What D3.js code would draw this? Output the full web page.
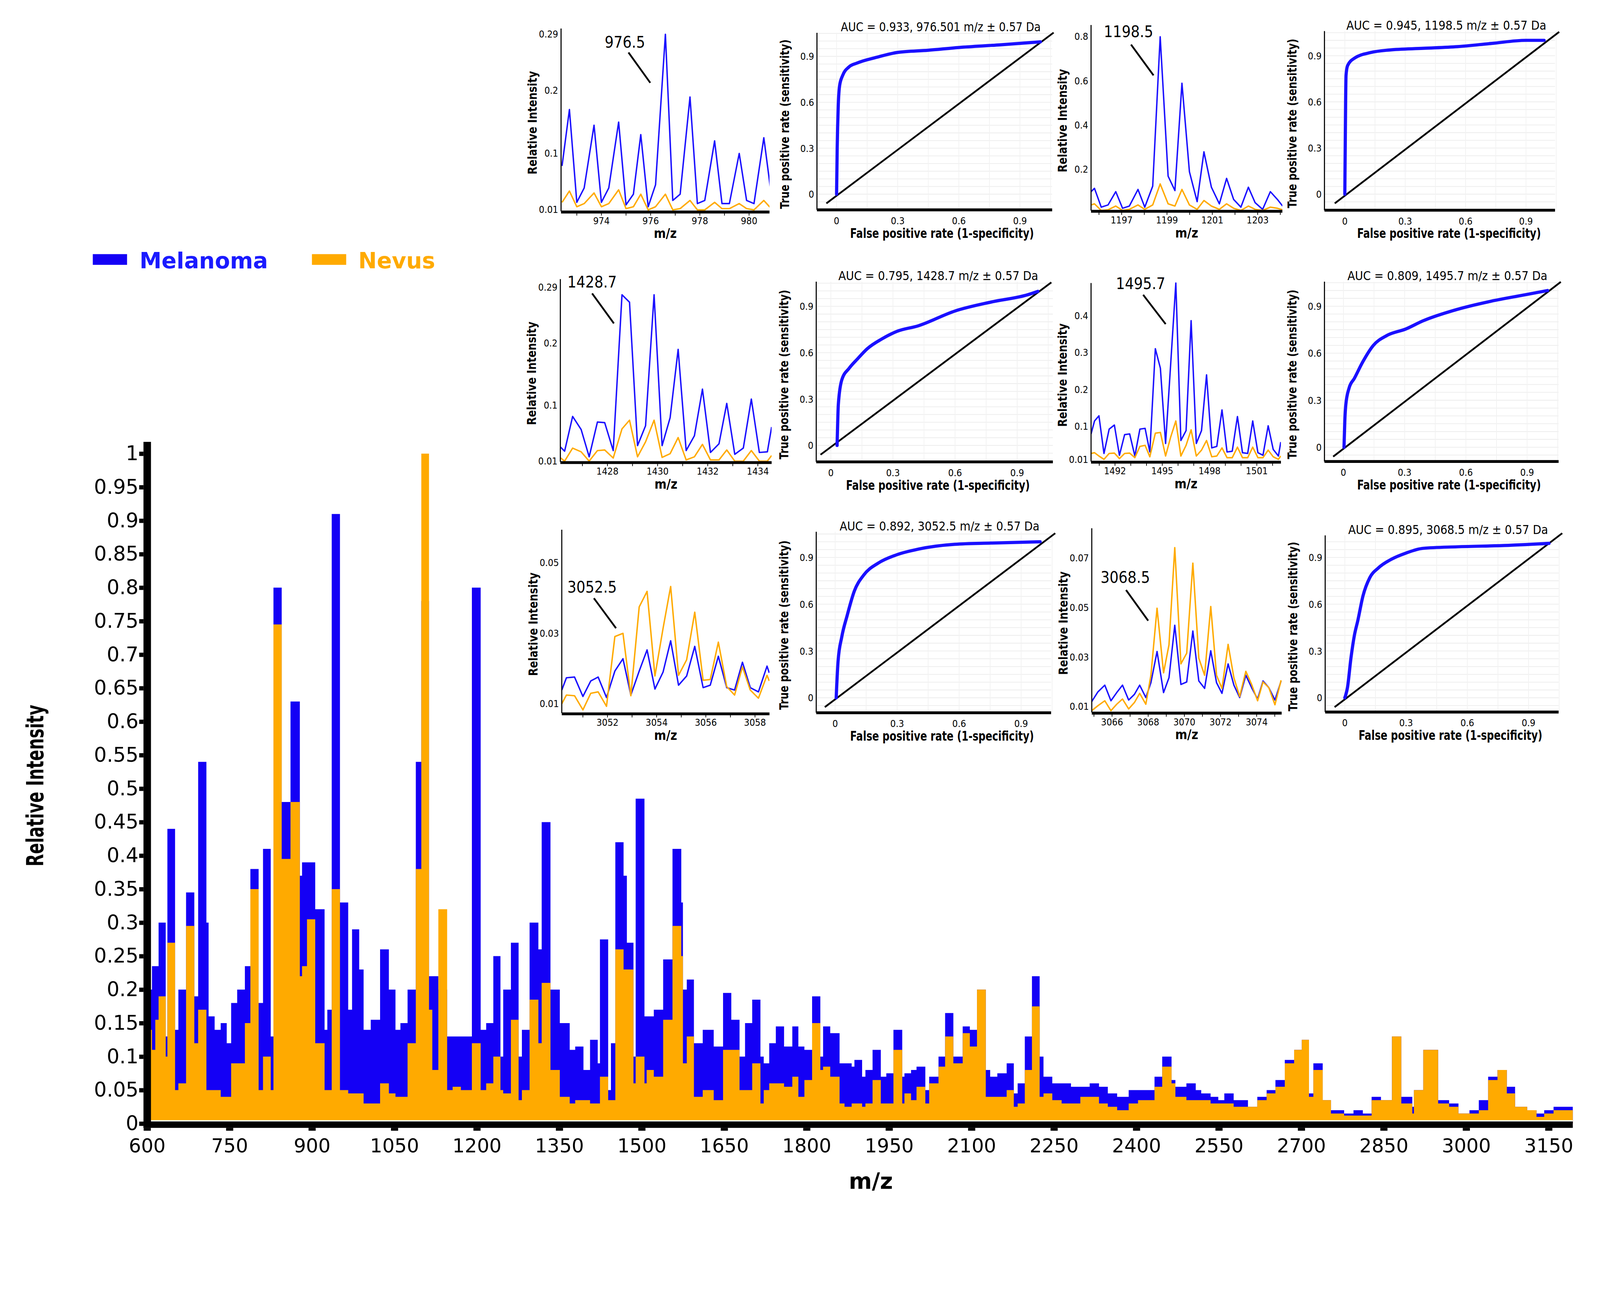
<!DOCTYPE html>
<html><head><meta charset="utf-8">
<script src="https://cdn.jsdelivr.net/npm/d3@7"></script>
<style>html,body{margin:0;padding:0;width:100%;height:100%;overflow:hidden;background:#fff}svg{display:block}</style>
</head><body>
<script>
// ===== DATA =====
const mainMz=[600,609,615,621,634,637,651,657,671,686,693,708,712,723,734,745,753,764,778,788,803,811,825,830,845,861,878,882,891,906,923,928,936,951,966,973,986,994,1007,1024,1040,1052,1061,1074,1089,1099,1113,1119,1130,1146,1156,1171,
1191,1207,1217,1230,1243,1248,1262,1276,1282,1296,1312,1318,1334,1351,1369,1379,1394,1406,1420,1424,1439,1444,1452,1467,1473,1485,1489,1505,1509,1522,1539,1556,1572,1575,1582,1595,1611,1631,1648,1663,1678,1688,1701,1716,1722,1732,1744,1759,1774,1785,1796,1810,1825,1830,1843,1860,1869,1882,1887,1901,1907,1920,1935,1945,1958,1974,1978,1990,2000,2016,2023,2040,2052,2067,2084,2097,2110,2126,2134,2147,2164,2177,2184,2197,2210,
2224,2231,2247,2264,2281,2298,2315,2332,2348,2365,2386,2403,2433,2447,2464,2471,2491,2508,2518,2535,2549,2560,2577,2590,2603,2620,2637,2653,2670,2687,2701,2714,2722,2739,2754,2778,2795,2812,2828,2845,2865,2882,2902,2905,2922,2949,2969,2986,3006,3023,3040,3057,3074,3089,3111,3128,3142,3159];
const mainMzEnd=3194;
const mainMelanoma=[0.2,0.235,0.235,0.3,0.13,0.44,0.14,0.2,0.345,0.19,0.54,0.3,0.16,0.14,0.15,0.12,0.18,0.2,0.235,0.38,0.18,0.41,0.13,0.8,0.48,0.63,0.37,0.39,0.39,0.32,0.14,0.17,0.91,0.33,0.17,0.29,0.23,0.14,0.155,0.26,0.2,0.14,0.15,0.2,0.54,0.78,0.22,0.22,0.2,0.13,0.13,0.13,
0.8,0.14,0.15,0.25,0.1,0.2,0.27,0.1,0.14,0.3,0.26,0.45,0.2,0.15,0.11,0.115,0.08,0.125,0.09,0.275,0.05,0.12,0.42,0.37,0.27,0.1,0.485,0.16,0.16,0.17,0.245,0.41,0.33,0.2,0.215,0.12,0.14,0.115,0.195,0.155,0.1,0.15,0.185,0.1,0.09,0.12,0.145,0.115,0.145,0.115,0.11,0.19,0.1,0.145,0.135,0.09,0.09,0.085,0.095,0.07,0.08,0.11,0.07,0.075,0.14,0.07,0.075,0.08,0.085,0.05,0.07,0.1,0.165,0.1,0.145,0.14,0.2,0.08,0.07,0.075,0.09,0.045,0.06,0.13,0.22,
0.1,0.07,0.06,0.06,0.055,0.055,0.06,0.055,0.045,0.04,0.05,0.05,0.07,0.1,0.065,0.055,0.06,0.05,0.045,0.04,0.035,0.045,0.035,0.035,0.025,0.04,0.05,0.065,0.095,0.11,0.125,0.045,0.09,0.035,0.02,0.015,0.02,0.015,0.04,0.035,0.13,0.04,0.025,0.05,0.11,0.035,0.03,0.015,0.02,0.035,0.07,0.08,0.055,0.025,0.02,0.015,0.02,0.025];
const mainNevus=[0.14,0.11,0.155,0.19,0.1,0.27,0.05,0.06,0.295,0.12,0.17,0.05,0.05,0.05,0.04,0.04,0.09,0.09,0.15,0.35,0.05,0.1,0.05,0.745,0.395,0.48,0.22,0.235,0.305,0.12,0.05,0.05,0.35,0.05,0.045,0.045,0.045,0.03,0.03,0.06,0.045,0.04,0.04,0.12,0.38,1.0,0.17,0.08,0.32,0.05,0.055,0.05,
0.12,0.05,0.06,0.1,0.05,0.045,0.155,0.035,0.05,0.185,0.12,0.21,0.08,0.04,0.03,0.035,0.035,0.03,0.03,0.07,0.035,0.035,0.26,0.23,0.23,0.06,0.1,0.06,0.08,0.07,0.155,0.295,0.25,0.09,0.13,0.04,0.05,0.035,0.11,0.11,0.05,0.05,0.09,0.03,0.05,0.06,0.06,0.055,0.07,0.04,0.065,0.15,0.08,0.085,0.07,0.03,0.025,0.03,0.03,0.025,0.03,0.065,0.03,0.03,0.11,0.03,0.045,0.035,0.055,0.03,0.06,0.085,0.13,0.09,0.135,0.115,0.2,0.04,0.04,0.04,0.05,0.025,0.03,0.08,0.175,
0.04,0.045,0.035,0.03,0.03,0.04,0.04,0.03,0.025,0.02,0.03,0.035,0.055,0.085,0.06,0.04,0.035,0.035,0.035,0.03,0.03,0.03,0.025,0.025,0.025,0.035,0.045,0.055,0.09,0.11,0.125,0.04,0.08,0.035,0.015,0.012,0.012,0.012,0.035,0.035,0.13,0.03,0.015,0.05,0.11,0.03,0.025,0.015,0.015,0.02,0.065,0.08,0.045,0.025,0.02,0.01,0.015,0.02];
const mainXTicks=[600,750,900,1050,1200,1350,1500,1650,1800,1950,2100,2250,2400,2550,2700,2850,3000,3150];
const mainYTicks=[0,0.05,0.1,0.15,0.2,0.25,0.3,0.35,0.4,0.45,0.5,0.55,0.6,0.65,0.7,0.75,0.8,0.85,0.9,0.95,1];
const legendLabels=["Melanoma","Nevus"];

const s1Mz=[972.4,972.7,973.0,973.3,973.7,974.0,974.3,974.7,975.0,975.3,975.6,975.9,976.2,976.6,976.9,977.2,977.6,977.9,978.2,978.6,978.9,979.2,979.6,979.9,980.2,980.6,980.9];
const s1Melanoma=[0.08,0.17,0.022,0.045,0.145,0.022,0.045,0.15,0.018,0.035,0.13,0.015,0.05,0.29,0.025,0.035,0.19,0.02,0.025,0.12,0.02,0.02,0.10,0.025,0.02,0.125,0.035];
const s1Nevus=[0.022,0.04,0.015,0.02,0.037,0.015,0.02,0.042,0.012,0.015,0.035,0.01,0.015,0.035,0.01,0.012,0.025,0.01,0.01,0.022,0.012,0.012,0.02,0.012,0.01,0.025,0.012];
const s2Mz=[1195.65,1195.80,1196.10,1196.40,1196.74,1197.04,1197.34,1197.72,1198.02,1198.37,1198.70,1199.05,1199.35,1199.66,1199.99,1200.33,1200.63,1200.96,1201.31,1201.63,1201.94,1202.26,1202.59,1202.89,1203.22,1203.56,1203.87,1204.10];
const s2Melanoma=[0.10,0.115,0.03,0.04,0.10,0.025,0.035,0.11,0.03,0.125,0.80,0.17,0.105,0.59,0.19,0.055,0.28,0.12,0.045,0.16,0.065,0.03,0.12,0.05,0.02,0.10,0.065,0.035];
const s2Nevus=[0.04,0.045,0.015,0.018,0.035,0.015,0.02,0.04,0.02,0.04,0.135,0.045,0.035,0.11,0.04,0.02,0.06,0.035,0.02,0.045,0.025,0.015,0.035,0.02,0.015,0.03,0.025,0.018];
const s3Mz=[1426.12,1426.29,1426.61,1426.95,1427.27,1427.60,1427.89,1428.23,1428.58,1428.88,1429.20,1429.52,1429.86,1430.18,1430.50,1430.82,1431.14,1431.47,1431.79,1432.11,1432.45,1432.76,1433.08,1433.42,1433.74,1434.06,1434.38,1434.55];
const s3Melanoma=[0.033,0.026,0.082,0.061,0.017,0.073,0.072,0.027,0.278,0.266,0.035,0.067,0.278,0.035,0.080,0.19,0.027,0.051,0.126,0.024,0.038,0.103,0.021,0.031,0.11,0.024,0.025,0.065];
const s3Nevus=[0.0156,0.010,0.031,0.025,0.010,0.027,0.028,0.015,0.062,0.076,0.017,0.041,0.076,0.016,0.022,0.048,0.012,0.017,0.037,0.012,0.012,0.028,0.010,0.010,0.027,0.010,0.010,0.019];
const s4Mz=[1490.48,1490.70,1490.98,1491.30,1491.63,1491.96,1492.28,1492.61,1492.93,1493.26,1493.58,1493.91,1494.21,1494.56,1494.88,1495.21,1495.53,1495.86,1496.18,1496.51,1496.83,1497.16,1497.49,1497.81,1498.14,1498.46,1498.79,1499.11,1499.44,1499.77,1500.09,1500.42,1500.74,1501.07,1501.39,1501.72,1502.04,1502.37,1502.52];
const s4Melanoma=[0.080,0.115,0.129,0.027,0.093,0.104,0.022,0.078,0.080,0.020,0.093,0.095,0.031,0.311,0.258,0.054,0.267,0.489,0.062,0.089,0.387,0.054,0.089,0.240,0.042,0.046,0.145,0.031,0.033,0.127,0.029,0.027,0.115,0.029,0.022,0.102,0.038,0.020,0.058];
const s4Nevus=[0.027,0.029,0.020,0.011,0.027,0.028,0.013,0.027,0.028,0.0155,0.046,0.049,0.018,0.082,0.084,0.020,0.071,0.115,0.020,0.049,0.091,0.020,0.036,0.062,0.018,0.020,0.042,0.0155,0.0155,0.044,0.0155,0.0155,0.044,0.0155,0.0155,0.036,0.018,0.011,0.020];
const s5Mz=[3050.14,3050.33,3050.66,3051.00,3051.32,3051.62,3051.96,3052.30,3052.63,3052.95,3053.29,3053.61,3053.93,3054.26,3054.57,3054.89,3055.22,3055.55,3055.89,3056.18,3056.51,3056.85,3057.17,3057.49,3057.81,3058.14,3058.49,3058.58];
const s5Melanoma=[0.0139,0.0174,0.0176,0.0121,0.0165,0.0176,0.0118,0.0193,0.0228,0.0125,0.0193,0.0253,0.0142,0.019,0.0279,0.0153,0.0179,0.0263,0.0146,0.0153,0.0235,0.0146,0.0139,0.0218,0.0146,0.0134,0.0207,0.0188];
const s5Nevus=[0.010,0.0125,0.0123,0.0083,0.013,0.0134,0.0093,0.0291,0.030,0.0123,0.0375,0.0419,0.0179,0.0314,0.0433,0.0181,0.0225,0.036,0.0167,0.0169,0.0275,0.0149,0.0125,0.0205,0.0139,0.0116,0.0181,0.0165];
const s6Mz=[3064.88,3065.22,3065.60,3065.94,3066.26,3066.58,3066.92,3067.24,3067.53,3067.87,3068.15,3068.49,3068.85,3069.15,3069.47,3069.81,3070.13,3070.47,3070.80,3071.12,3071.46,3071.78,3072.08,3072.42,3072.74,3073.06,3073.40,3073.72,3074.05,3074.35,3074.67,3075.01,3075.35];
const s6Melanoma=[0.0121,0.016,0.0187,0.0124,0.0157,0.0187,0.0127,0.015,0.0187,0.0137,0.0197,0.0323,0.0157,0.0217,0.0429,0.019,0.020,0.0406,0.0204,0.0174,0.0326,0.0197,0.0154,0.0273,0.0187,0.0137,0.0227,0.0177,0.0131,0.0204,0.0177,0.0127,0.0204];
const s6Nevus=[0.0084,0.0104,0.0124,0.0084,0.011,0.0131,0.0091,0.0117,0.0154,0.011,0.0227,0.0498,0.0237,0.035,0.0743,0.0273,0.0316,0.068,0.0296,0.0227,0.0505,0.0227,0.0174,0.0352,0.0217,0.0141,0.0243,0.019,0.0124,0.020,0.0177,0.0108,0.0207];

const peakLabels=["976.5","1198.5","1428.7","1495.7","3052.5","3068.5"];
const aucTitles=["AUC = 0.933, 976.501 m/z ± 0.57 Da","AUC = 0.945, 1198.5 m/z ± 0.57 Da","AUC = 0.795, 1428.7 m/z ± 0.57 Da","AUC = 0.809, 1495.7 m/z ± 0.57 Da","AUC = 0.892, 3052.5 m/z ± 0.57 Da","AUC = 0.895, 3068.5 m/z ± 0.57 Da"];
const specXTicks=[[974,976,978,980],[1197,1199,1201,1203],[1428,1430,1432,1434],[1492,1495,1498,1501],[3052,3054,3056,3058],[3066,3068,3070,3072,3074]];
const specYTicks=[[0.01,0.1,0.2,0.29],[0.2,0.4,0.6,0.8],[0.01,0.1,0.2,0.29],[0.01,0.1,0.2,0.3,0.4],[0.01,0.03,0.05],[0.01,0.03,0.05,0.07]];
const rocTicks=[0,0.3,0.6,0.9];

const roc1Fpr=[0,0.003,0.008,0.015,0.03,0.06,0.1,0.2,0.3,0.45,0.6,0.8,1.0];
const roc1Tpr=[0,0.3,0.57,0.71,0.776,0.83,0.856,0.895,0.926,0.94,0.958,0.975,0.995];
const roc2Fpr=[0,0.002,0.004,0.006,0.014,0.048,0.13,0.22,0.39,0.56,0.73,0.9,0.99];
const roc2Tpr=[0,0.3,0.6,0.772,0.836,0.884,0.921,0.937,0.948,0.959,0.98,1.0,1.0];
const roc3Fpr=[0.03,0.033,0.036,0.053,0.088,0.13,0.176,0.246,0.317,0.422,0.6,0.775,0.951,1.0];
const roc3Tpr=[0,0.15,0.265,0.425,0.499,0.562,0.626,0.689,0.737,0.774,0.87,0.928,0.975,0.997];
const roc4Fpr=[0.003,0.007,0.012,0.028,0.054,0.095,0.146,0.213,0.305,0.389,0.556,0.724,0.891,1.0];
const roc4Tpr=[0,0.169,0.273,0.378,0.44,0.545,0.649,0.713,0.754,0.806,0.879,0.932,0.973,1.0];
const roc5Fpr=[0.005,0.014,0.032,0.058,0.093,0.137,0.208,0.296,0.402,0.578,0.754,0.992];
const roc5Tpr=[0,0.233,0.39,0.527,0.685,0.785,0.863,0.916,0.953,0.984,0.992,1.0];
const roc6Fpr=[0,0.013,0.03,0.047,0.064,0.089,0.122,0.164,0.231,0.298,0.382,0.55,0.801,1.0];
const roc6Tpr=[0,0.065,0.254,0.401,0.497,0.653,0.769,0.832,0.89,0.927,0.958,0.968,0.977,0.99];

// ===== LAYOUT =====
const W=4483,H=3356;
const BLUE="#1a10ff", ORANGE="#ffaa00", MBLUE="#1400f5";
const NARROW="'Liberation Sans Narrow','DejaVu Sans Condensed',sans-serif";
const svg=d3.select("body").append("svg").attr("viewBox",`0 0 ${W} ${H}`).attr("width","100%").attr("height","100%").attr("preserveAspectRatio","xMinYMin meet");
const defs=svg.append("defs");

const mx=d3.scaleLinear().domain([600,3150]).range([412,412+2550*1.54]);
const my=d3.scaleLinear().domain([0,1]).range([3148,1271]);
function stepData(vals){const d=mainMz.map((m,i)=>({m,v:vals[i]}));d.push({m:mainMzEnd,v:vals[vals.length-1]});return d;}
const ar=d3.area().x(d=>mx(d.m)).y0(my(0)).y1(d=>my(d.v)).curve(d3.curveStepAfter);
svg.append("path").datum(stepData(mainMelanoma)).attr("d",ar).attr("fill",MBLUE);
svg.append("path").datum(stepData(mainNevus)).attr("d",ar).attr("fill",ORANGE);
svg.append("line").attr("x1",mx(600)).attr("x2",mx(mainMzEnd)).attr("y1",my(0.004)).attr("y2",my(0.004)).attr("stroke","#fff").attr("stroke-width",4);
svg.append("rect").attr("x",402).attr("y",1238).attr("width",21).attr("height",3160-1238).attr("fill","#000");
svg.append("rect").attr("x",402).attr("y",3142).attr("width",mx(mainMzEnd)-402).attr("height",18).attr("fill","#000");
const yAx=d3.axisLeft(my).tickValues(mainYTicks).tickFormat(d=>d3.format("~g")(d)).tickSize(0).tickPadding(14);
const gy=svg.append("g").attr("transform","translate(402,0)").call(yAx);
gy.select(".domain").remove();
gy.selectAll(".tick text").attr("font-family","'DejaVu Sans',Verdana,sans-serif").attr("font-size",56).attr("fill","#000");
gy.selectAll(".tick").append("rect").attr("x",-12).attr("y",-6).attr("width",12).attr("height",12).attr("fill","#000");
const xAx=d3.axisBottom(mx).tickValues(mainXTicks).tickFormat(d3.format("d")).tickSize(0).tickPadding(30);
const gx=svg.append("g").attr("transform","translate(0,3160)").call(xAx);
gx.select(".domain").remove();
gx.selectAll(".tick text").attr("font-family","'DejaVu Sans',Verdana,sans-serif").attr("font-size",54).attr("fill","#000");
gx.selectAll(".tick").append("rect").attr("x",-10).attr("y",0).attr("width",20).attr("height",8).attr("fill","#000");
svg.append("text").attr("x",2440).attr("y",3330).attr("text-anchor","middle").attr("font-family","'DejaVu Sans',sans-serif").attr("font-weight","bold").attr("font-size",62).text("m/z");
svg.append("text").attr("transform","translate(122,2201) rotate(-90)").attr("text-anchor","middle").attr("font-family",NARROW).attr("font-weight","bold").attr("font-size",66).attr("textLength",453).attr("lengthAdjust","spacingAndGlyphs").text("Relative Intensity");
const leg=[{x:260,tx:391,c:MBLUE,tc:"#1a1aff"},{x:874,tx:1004,c:ORANGE,tc:ORANGE}];
leg.forEach((l,i)=>{
  svg.append("rect").attr("x",l.x).attr("y",712).attr("width",96).attr("height",30).attr("fill",l.c);
  svg.append("text").attr("x",l.tx).attr("y",752).attr("font-family","'DejaVu Sans',sans-serif").attr("font-weight","bold").attr("font-size",62).attr("fill",l.tc).text(legendLabels[i]);
});

const spectra=[
 {mz:s1Mz,mel:s1Melanoma,nev:s1Nevus,L:1572,R:2156,B:592,T:80,ya:[0.01,588],yb:[0.29,96],xd:[972.36,980.83],lab:[1751,134],ln:[1761,147,1822,232]},
 {mz:s2Mz,mel:s2Melanoma,nev:s2Nevus,L:3057,R:3593,B:590,T:70,ya:[0.2,475],yb:[0.8,103],xd:[1195.65,1204.09],lab:[3162,104],ln:[3169,125,3232,211]},
 {mz:s3Mz,mel:s3Melanoma,nev:s3Nevus,L:1570,R:2162,B:1294,T:782,ya:[0.01,1292],yb:[0.29,805],xd:[1426.12,1434.55],lab:[1659,805],ln:[1659,822,1720,906]},
 {mz:s4Mz,mel:s4Melanoma,nev:s4Nevus,L:3057,R:3589,B:1293,T:793,ya:[0.1,1195],yb:[0.4,885],xd:[1490.48,1502.53],lab:[3196,810],ln:[3203,826,3266,908]},
 {mz:s5Mz,mel:s5Melanoma,nev:s5Nevus,L:1574,R:2156,B:1998,T:1484,ya:[0.01,1972],yb:[0.05,1577],xd:[3050.14,3058.59],lab:[1659,1660],ln:[1664,1676,1726,1760]},
 {mz:s6Mz,mel:s6Melanoma,nev:s6Nevus,L:3059,R:3591,B:1996,T:1480,ya:[0.01,1980],yb:[0.07,1564],xd:[3064.88,3075.38],lab:[3153,1633],ln:[3155,1653,3217,1739]}
];
spectra.forEach((s,i)=>{
  const g=svg.append("g");
  const x=d3.scaleLinear().domain(s.xd).range([s.L,s.R]);
  const y=d3.scaleLinear().domain([s.ya[0],s.yb[0]]).range([s.ya[1],s.yb[1]]);
  const cid="sc"+i;
  defs.append("clipPath").attr("id",cid).append("rect").attr("x",s.L).attr("y",s.T-20).attr("width",s.R-s.L).attr("height",s.B-s.T+20);
  const line=d3.line().x(d=>x(d[0])).y(d=>y(d[1]));
  const cg=g.append("g").attr("clip-path",`url(#${cid})`);
  [["mel",BLUE],["nev",ORANGE]].forEach(([k,c])=>{
    cg.append("path").datum(s.mz.map((m,j)=>[m,s[k][j]])).attr("d",line).attr("fill","none").attr("stroke",c).attr("stroke-width",4).attr("stroke-linejoin","round");
  });
  g.append("line").attr("x1",s.L).attr("x2",s.L).attr("y1",s.T).attr("y2",s.B).attr("stroke","#000").attr("stroke-width",3);
  g.append("line").attr("x1",s.L).attr("x2",s.R).attr("y1",s.B+2).attr("y2",s.B+2).attr("stroke","#000").attr("stroke-width",8);
  d3.range(Math.ceil(s.xd[0]),Math.floor(s.xd[1])+1).forEach(v=>g.append("line").attr("x1",x(v)).attr("x2",x(v)).attr("y1",s.B+5).attr("y2",s.B+12).attr("stroke","#000").attr("stroke-width",2));
  specXTicks[i].forEach(v=>g.append("text").attr("x",x(v)).attr("y",s.B+36).attr("text-anchor","middle").attr("font-family",NARROW).attr("font-size",27).text(v));
  specYTicks[i].forEach(v=>g.append("text").attr("x",s.L-8).attr("y",y(v)+9).attr("text-anchor","end").attr("font-family",NARROW).attr("font-size",27).text(v));
  g.append("text").attr("transform",`translate(${s.L-68},${(s.T+s.B)/2+8}) rotate(-90)`).attr("text-anchor","middle").attr("font-family","'DejaVu Sans',sans-serif").attr("font-weight","bold").attr("font-size",34).attr("textLength",290).attr("lengthAdjust","spacingAndGlyphs").text("Relative  Intensity");
  g.append("text").attr("x",(s.L+s.R)/2).attr("y",s.B+75).attr("text-anchor","middle").attr("font-family",NARROW).attr("font-weight","bold").attr("font-size",36).text("m/z");
  g.append("text").attr("x",s.lab[0]).attr("y",s.lab[1]).attr("text-anchor","middle").attr("font-family",NARROW).attr("font-size",44).text(peakLabels[i]);
  g.append("line").attr("x1",s.ln[0]).attr("y1",s.ln[1]).attr("x2",s.ln[2]).attr("y2",s.ln[3]).attr("stroke","#000").attr("stroke-width",5);
});

const rocs=[
 {f:roc1Fpr,t:roc1Tpr,L:2289,R:2948,B:588,T:92,x0:2344,x1:2915,y0:544,y1:115},
 {f:roc2Fpr,t:roc2Tpr,L:3711,R:4357,B:589,T:87,x0:3768,x1:4332,y0:544,y1:113},
 {f:roc3Fpr,t:roc3Tpr,L:2287,R:2950,B:1294,T:789,x0:2328,x1:2908,y0:1248,y1:815},
 {f:roc4Fpr,t:roc4Tpr,L:3711,R:4367,B:1293,T:789,x0:3764,x1:4336,y0:1253,y1:814},
 {f:roc5Fpr,t:roc5Tpr,L:2287,R:2945,B:1997,T:1490,x0:2340,x1:2919,y0:1955,y1:1518},
 {f:roc6Fpr,t:roc6Tpr,L:3713,R:4367,B:1995,T:1500,x0:3768,x1:4340,y0:1955,y1:1518}
];
rocs.forEach((r,i)=>{
  const g=svg.append("g");
  const x=d3.scaleLinear().domain([0,1]).range([r.x0,r.x1]);
  const y=d3.scaleLinear().domain([0,1]).range([r.y0,r.y1]);
  d3.range(-0.1,1.06,0.05).forEach(v=>{ if(y(v)<r.B&&y(v)>r.T) g.append("line").attr("x1",r.L).attr("x2",r.R).attr("y1",y(v)).attr("y2",y(v)).attr("stroke","#ececec").attr("stroke-width",2);});
  d3.range(0,1.06,0.15).forEach(v=>g.append("line").attr("x1",x(v)).attr("x2",x(v)).attr("y1",r.T).attr("y2",r.B).attr("stroke","#f2f2f2").attr("stroke-width",2));
  g.append("line").attr("x1",x(-0.05)).attr("y1",y(-0.06)).attr("x2",x(1.065)).attr("y2",y(1.055)).attr("stroke","#000").attr("stroke-width",5);
  g.append("path").datum(r.f.map((v,j)=>[v,r.t[j]])).attr("d",d3.line().x(d=>x(d[0])).y(d=>y(d[1])).curve(d3.curveMonotoneX)).attr("fill","none").attr("stroke",BLUE).attr("stroke-width",9).attr("stroke-linejoin","round").attr("stroke-linecap","round");
  g.append("line").attr("x1",r.L).attr("x2",r.L).attr("y1",r.T).attr("y2",r.B).attr("stroke","#000").attr("stroke-width",3);
  g.append("line").attr("x1",r.L).attr("x2",r.R).attr("y1",r.B).attr("y2",r.B).attr("stroke","#000").attr("stroke-width",8);
  rocTicks.forEach(v=>{
    g.append("text").attr("x",x(v)).attr("y",r.B+40).attr("text-anchor","middle").attr("font-family",NARROW).attr("font-size",27).text(v);
    g.append("text").attr("x",r.L-8).attr("y",y(v)+10).attr("text-anchor","end").attr("font-family",NARROW).attr("font-size",27).text(v);
  });
  g.append("text").attr("x",(r.L+r.R)/2+(r.x0-r.L)/2-10).attr("y",r.T-4).attr("text-anchor","middle").attr("font-family",NARROW).attr("font-size",34).attr("textLength",560).attr("lengthAdjust","spacingAndGlyphs").text(aucTitles[i]);
  g.append("text").attr("x",(r.x0+r.x1)/2+10).attr("y",r.B+78).attr("text-anchor","middle").attr("font-family",NARROW).attr("font-weight","bold").attr("font-size",36).attr("textLength",515).attr("lengthAdjust","spacingAndGlyphs").text("False positive rate (1-specificity)");
  g.append("text").attr("transform",`translate(${r.L-78},${(r.T+r.B)/2+8}) rotate(-90)`).attr("text-anchor","middle").attr("font-family","'DejaVu Sans',sans-serif").attr("font-weight","bold").attr("font-size",34).attr("textLength",475).attr("lengthAdjust","spacingAndGlyphs").text("True positive rate (sensitivity)");
});
</script>
</body></html>
